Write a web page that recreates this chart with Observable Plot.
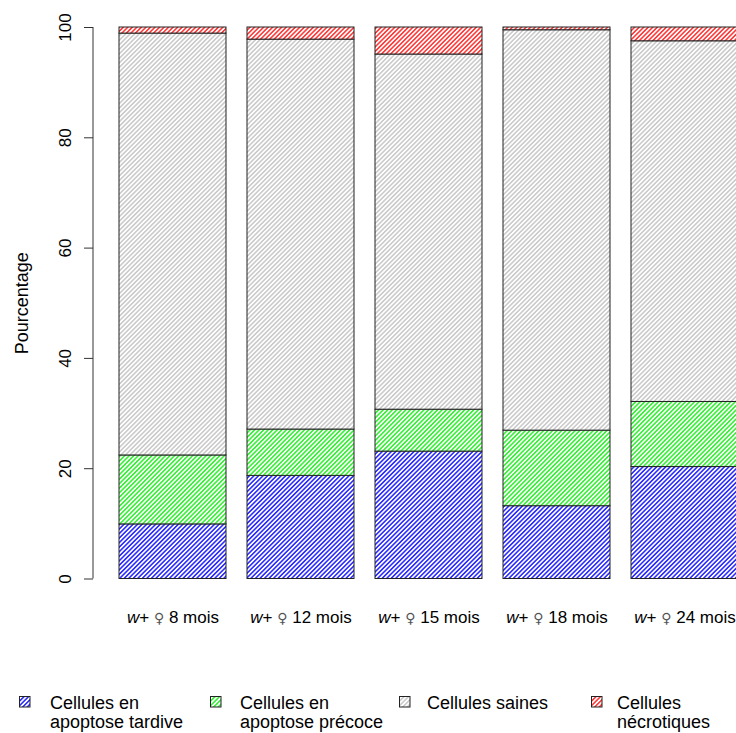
<!DOCTYPE html>
<html>
<head>
<meta charset="utf-8">
<script src="https://cdn.jsdelivr.net/npm/d3@7"></script>
<script src="https://cdn.jsdelivr.net/npm/@observablehq/plot@0.6"></script>
<style>
  html, body { margin: 0; padding: 0; background: white; overflow: hidden; }
  body { width: 736px; height: 733px; position: relative; font-family: "Liberation Sans", Arial, sans-serif; }
  #chart svg { display: block; overflow: hidden; }
  .legend { position: absolute; left: 0; top: 650px; width: 736px; height: 83px; }
  .item { position: absolute; top: 0; }
  .item svg { position: absolute; top: 46px; left: 0; }
  .item .lab { position: absolute; top: 44px; font-size: 18px; line-height: 19px; color: #000; white-space: nowrap; }
</style>
</head>
<body>
<svg width="0" height="0" style="position:absolute">
  <defs>
    <pattern id="h-blue" patternUnits="userSpaceOnUse" width="3.2" height="3.2" patternTransform="rotate(45)">
      <rect width="3.2" height="3.2" fill="white"/>
      <line x1="0.8" y1="0" x2="0.8" y2="3.2" stroke="#1010ff" stroke-width="1.4"/>
    </pattern>
    <pattern id="h-green" patternUnits="userSpaceOnUse" width="3.2" height="3.2" patternTransform="rotate(45)">
      <rect width="3.2" height="3.2" fill="white"/>
      <line x1="0.8" y1="0" x2="0.8" y2="3.2" stroke="#1aee1a" stroke-width="1.4"/>
    </pattern>
    <pattern id="h-grey" patternUnits="userSpaceOnUse" width="3.2" height="3.2" patternTransform="rotate(45)">
      <rect width="3.2" height="3.2" fill="white"/>
      <line x1="0.8" y1="0" x2="0.8" y2="3.2" stroke="#c4c4c4" stroke-width="1.4"/>
    </pattern>
    <pattern id="h-red" patternUnits="userSpaceOnUse" width="3.2" height="3.2" patternTransform="rotate(45)">
      <rect width="3.2" height="3.2" fill="white"/>
      <line x1="0.8" y1="0" x2="0.8" y2="3.2" stroke="#ff2020" stroke-width="1.4"/>
    </pattern>
  </defs>
</svg>
<div id="chart"></div>
<div class="legend" id="legend"></div>
<script>
// ---- data ----
const categories = ["w+ ♀ 8 mois", "w+ ♀ 12 mois", "w+ ♀ 15 mois", "w+ ♀ 18 mois", "w+ ♀ 24 mois"];
const seriesNames = ["Cellules en apoptose tardive", "Cellules en apoptose précoce", "Cellules saines", "Cellules nécrotiques"];
const legendLines = [["Cellules en", "apoptose tardive"], ["Cellules en", "apoptose précoce"], ["Cellules saines"], ["Cellules", "nécrotiques"]];
const tardive     = [9.9, 18.7, 23.1, 13.2, 20.3];
const precoce     = [12.5, 8.4, 7.6, 13.7, 11.8];
const saines      = [76.5, 70.7, 64.4, 72.6, 65.4];
const necrotiques = [1.1, 2.2, 4.9, 0.5, 2.5];
const yTicks = [0, 20, 40, 60, 80, 100];
const patterns = ["url(#h-blue)", "url(#h-green)", "url(#h-grey)", "url(#h-red)"];

const seriesValues = [tardive, precoce, saines, necrotiques];
const rows = [];
categories.forEach((c, i) => {
  seriesNames.forEach((s, j) => rows.push({cat: c, series: s, value: seriesValues[j][i]}));
});

const W = 736, H = 650, mTop = 27, mBottom = 71.5, mLeft = 93;

const axisLine = (index, scales, values, dims) => {
  const [y0, y1] = [scales.y(0), scales.y(100)];
  const l = document.createElementNS("http://www.w3.org/2000/svg", "line");
  l.setAttribute("x1", dims.marginLeft); l.setAttribute("x2", dims.marginLeft);
  l.setAttribute("y1", y0); l.setAttribute("y2", y1);
  l.setAttribute("stroke", "#333"); l.setAttribute("stroke-width", 1);
  return l;
};

const chart = Plot.plot({
  width: W, height: H,
  marginTop: mTop, marginBottom: mBottom, marginLeft: mLeft, marginRight: 0,
  style: {fontFamily: "Liberation Sans, Arial, sans-serif", fontSize: "18px", color: "#000", background: "white"},
  x: {domain: categories, range: [118, 738.6], paddingInner: 0.2 / 1.2, paddingOuter: 0, align: 0.5, axis: null},
  y: {domain: [0, 100], axis: null},
  color: {type: "ordinal", domain: seriesNames, range: patterns},
  marks: [
    Plot.barY(rows, {x: "cat", y: "value", fill: "series", stroke: "#222", strokeWidth: 1}),
    Plot.axisY({ticks: yTicks, tickSize: 9, tickFormat: () => "", label: null, stroke: "#333"}),
    axisLine,
    Plot.text(yTicks, {y: d => d, text: d => String(d), frameAnchor: "left", textAnchor: "middle", lineAnchor: "middle", dx: -28, rotate: -90, fontSize: 17, fill: "#000"}),
    Plot.text(["Pourcentage"], {frameAnchor: "left", textAnchor: "middle", lineAnchor: "middle", dx: -71, rotate: -90, fontSize: 18, fill: "#000"}),
    Plot.text(categories, {x: d => d, text: d => d, frameAnchor: "bottom", dy: 38.5, lineAnchor: "middle", fontSize: 17, fill: "#000"})
  ]
});
document.getElementById("chart").appendChild(chart);

// italic "w" and symbol glyph in category labels
const ns = "http://www.w3.org/2000/svg";
chart.querySelectorAll("text").forEach(t => {
  const s = t.textContent;
  if (s.startsWith("w+")) {
    const rest = s.slice(4);
    t.textContent = "";
    const a = document.createElementNS(ns, "tspan");
    a.setAttribute("font-style", "italic");
    a.textContent = "w";
    const b = document.createElementNS(ns, "tspan");
    b.textContent = "+ ";
    const c = document.createElementNS(ns, "tspan");
    c.setAttribute("font-family", "DejaVu Sans");
    c.setAttribute("font-size", "14");
    c.setAttribute("fill", "#555");
    c.textContent = "♀";
    const d = document.createElementNS(ns, "tspan");
    d.textContent = rest;
    [a, b, c, d].forEach(e => t.appendChild(e));
  }
});

// legend
const legendX = [[19, 50], [210, 240], [399, 427], [591, 617]];
const legend = document.getElementById("legend");
seriesNames.forEach((s, i) => {
  const item = document.createElement("div");
  item.className = "item";
  item.style.left = legendX[i][0] + "px";
  item.innerHTML = `<svg width="12" height="12"><rect x="0.5" y="0.5" width="10.5" height="10.5" fill="${patterns[i]}" stroke="#222" stroke-width="1"/></svg>` +
    `<div class="lab" style="left:${legendX[i][1] - legendX[i][0]}px">${legendLines[i].join("<br>")}</div>`;
  legend.appendChild(item);
});
</script>
</body>
</html>
